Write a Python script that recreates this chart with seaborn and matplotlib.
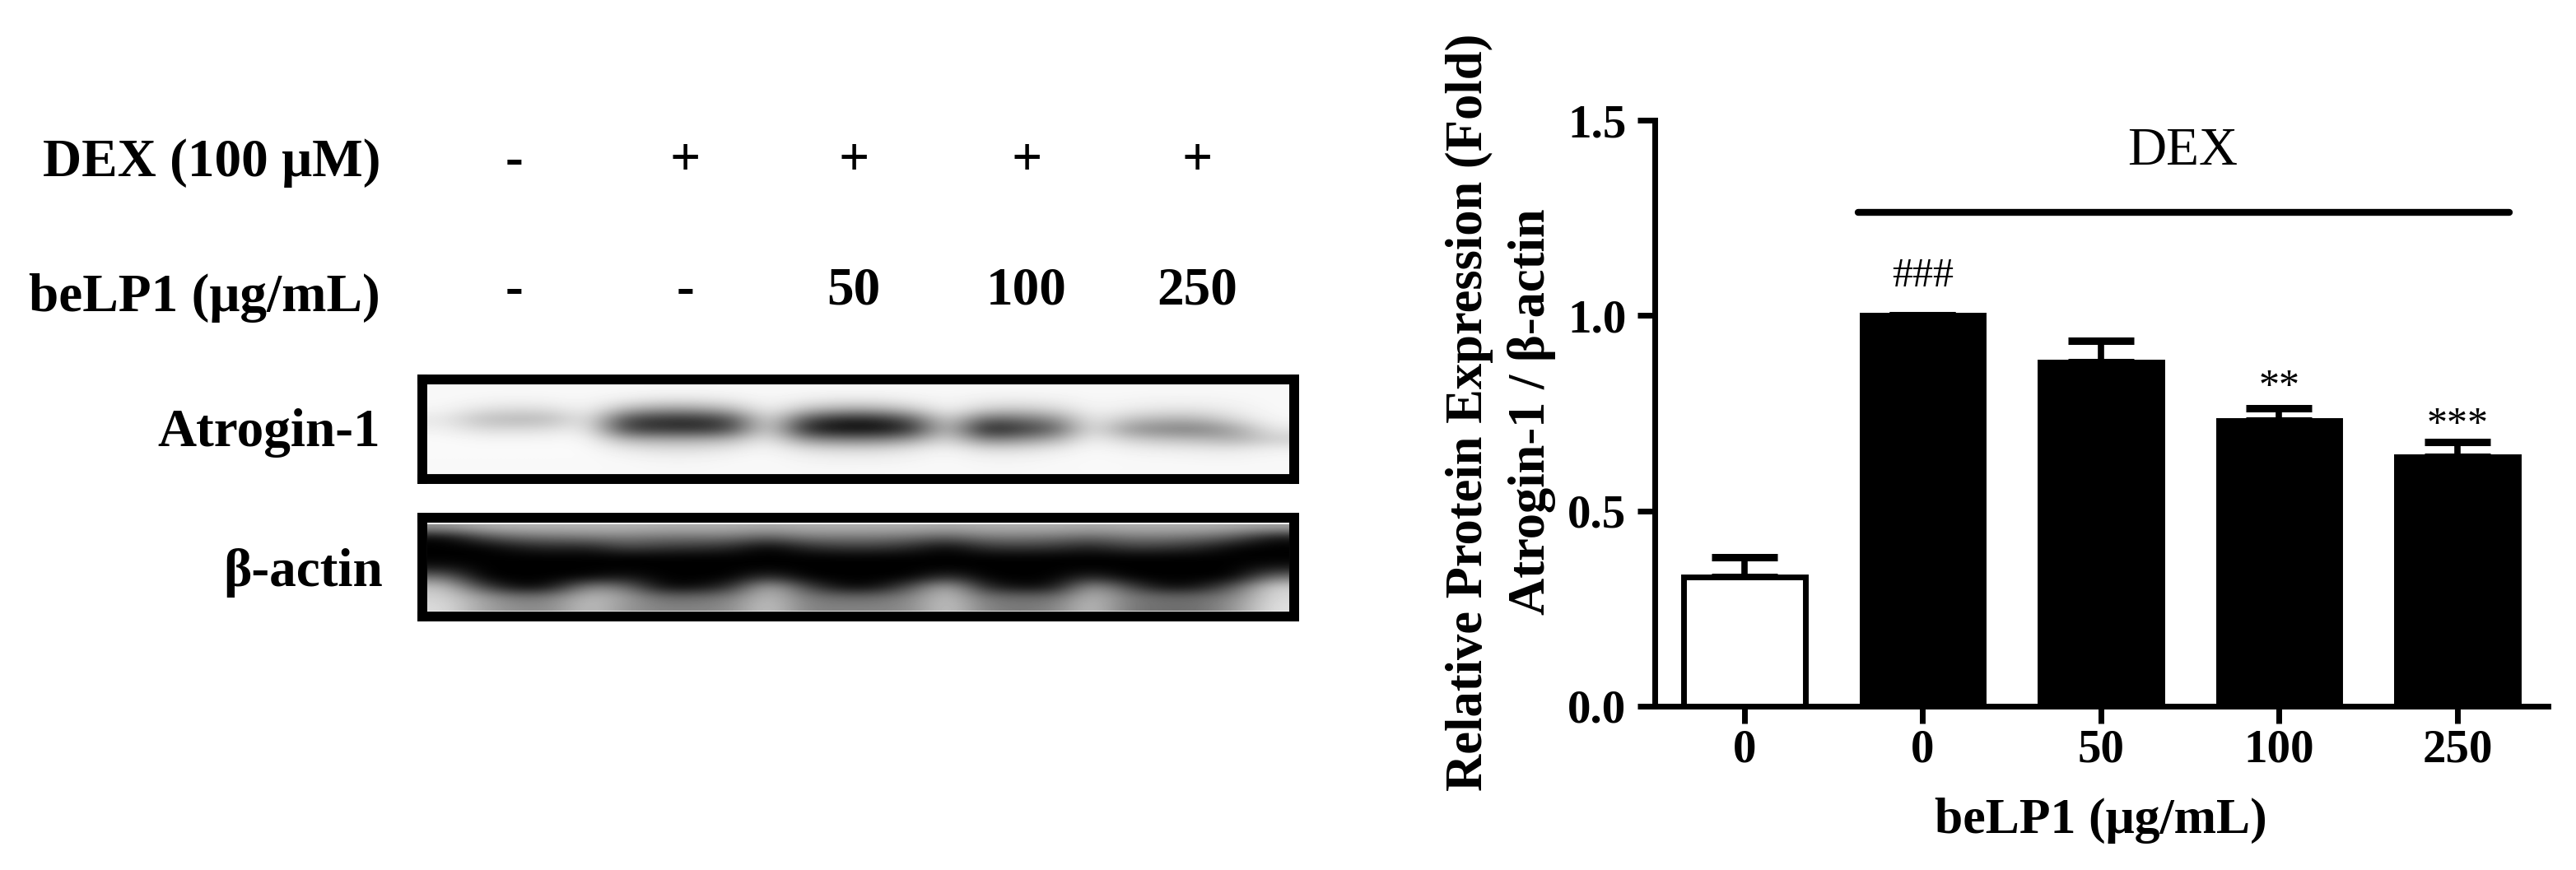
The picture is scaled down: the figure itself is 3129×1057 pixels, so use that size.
import numpy as np
import pandas as pd
import matplotlib
matplotlib.use('Agg')
import matplotlib.pyplot as plt
import seaborn as sns

# bar chart values
groups = ['ctrl', 'dex0', 'dex50', 'dex100', 'dex250']
dose_labels = ['0', '0', '50', '100', '250']
means = [0.33, 1.0, 0.88, 0.731, 0.639]
errors = [0.052, 0.0, 0.055, 0.032, 0.037]
bar_colors = ['white', 'black', 'black', 'black', 'black']
sig_labels = ['', '###', '', '**', '***']
sig_heights = [0, 1.1, 0, 0.815, 0.718]
y_ticks = [0.0, 0.5, 1.0, 1.5]

# table above the blots
dex_row = ['-', '+', '+', '+', '+']
belp_row = ['-', '-', '50', '100', '250']

# blot grey levels (0 black, 255 white)
atrogin_grey = [
    [248, 248, 248, 248, 248, 248, 248, 248, 248, 248, 248, 248, 248, 248, 248, 248, 248, 248, 248, 248, 248, 248, 248, 248],
    [248, 245, 243, 245, 247, 238, 228, 228, 236, 247, 238, 232, 232, 240, 247, 238, 236, 240, 247, 245, 243, 243, 245, 248],
    [245, 225, 218, 222, 245, 180, 155, 158, 182, 245, 192, 170, 170, 198, 245, 205, 198, 212, 245, 235, 228, 228, 238, 248],
    [232, 190, 182, 186, 238, 70, 48, 45, 75, 238, 80, 38, 38, 88, 225, 95, 112, 140, 240, 195, 180, 180, 218, 246],
    [240, 218, 218, 222, 240, 62, 52, 45, 68, 235, 35, 10, 10, 42, 215, 20, 55, 92, 238, 148, 130, 125, 160, 232],
    [250, 245, 245, 246, 248, 175, 168, 168, 180, 240, 140, 122, 122, 150, 225, 122, 140, 170, 245, 205, 192, 185, 172, 205],
    [250, 250, 250, 250, 250, 232, 222, 222, 232, 248, 222, 215, 215, 228, 245, 218, 220, 232, 250, 240, 235, 232, 230, 240],
    [249, 249, 249, 249, 249, 247, 243, 243, 247, 249, 243, 240, 240, 244, 249, 243, 243, 247, 249, 248, 247, 246, 245, 248],
    [248, 248, 248, 248, 248, 248, 247, 247, 248, 248, 247, 247, 247, 248, 248, 247, 247, 248, 248, 248, 248, 248, 248, 248],
]
actin_grey = [
    [150, 175, 180, 180, 180, 180, 175, 175, 175, 170, 175, 175, 175, 175, 170, 175, 175, 175, 170, 175, 175, 175, 170, 165],
    [5, 70, 105, 112, 120, 125, 115, 115, 115, 90, 120, 120, 120, 110, 90, 120, 120, 115, 100, 120, 120, 110, 85, 20],
    [0, 0, 25, 40, 30, 70, 55, 50, 40, 0, 40, 55, 55, 40, 5, 50, 55, 50, 30, 60, 55, 40, 5, 0],
    [0, 0, 0, 0, 0, 0, 0, 0, 0, 0, 0, 0, 0, 0, 0, 0, 0, 0, 0, 0, 0, 0, 0, 0],
    [20, 0, 0, 0, 0, 0, 0, 0, 0, 0, 0, 0, 0, 0, 0, 0, 0, 0, 0, 0, 0, 0, 0, 20],
    [115, 0, 0, 0, 5, 25, 0, 0, 0, 55, 0, 0, 0, 0, 55, 0, 0, 0, 45, 0, 0, 0, 0, 115],
    [195, 75, 5, 20, 140, 115, 10, 10, 50, 185, 75, 10, 10, 85, 185, 40, 10, 20, 165, 75, 10, 20, 95, 210],
    [210, 160, 115, 125, 190, 160, 105, 105, 125, 195, 125, 105, 105, 135, 200, 115, 105, 105, 190, 125, 105, 105, 135, 218],
    [220, 165, 140, 140, 198, 150, 130, 130, 140, 205, 130, 130, 130, 140, 205, 130, 120, 130, 198, 120, 110, 110, 150, 225],
]

W, H = 3129, 1057
SERIF = 'Liberation Serif'
sns.set_theme(style='ticks', font=SERIF)
plt.rcParams['font.family'] = SERIF


def px_axes(fig, left, top, right, bottom):
    return fig.add_axes([left / W, 1 - bottom / H, (right - left) / W, (bottom - top) / H])


def px_text(fig, x, y, s, size=47, ha='center', weight='bold', **kw):
    fig.text(x / W, 1 - y / H, s, ha=ha, va='center', fontsize=size, fontweight=weight,
             color='black', family=SERIF, **kw)


fig = plt.figure(figsize=(W / 100, H / 100), dpi=100, facecolor='white')

# blots, picture first and the thick frame on top
for grey, top, bottom in [(atrogin_grey, 467, 576), (actin_grey, 635, 743)]:
    ax_blot = px_axes(fig, 519, top, 1566, bottom)
    ax_blot.imshow(np.array(grey), cmap='gray', vmin=0, vmax=255, aspect='auto',
                   interpolation='bicubic')
    ax_blot.set_xticks([])
    ax_blot.set_yticks([])
    for name, side in ax_blot.spines.items():
        side.set_visible(name in ['top', 'bottom'])
        side.set_linewidth(2)
        side.set_color('#f2f2f2')

    frame = px_axes(fig, 513, top - 6, 1572, bottom + 6)
    frame.patch.set_alpha(0)
    frame.set_xticks([])
    frame.set_yticks([])
    for side in frame.spines.values():
        side.set_linewidth(8.6)
        side.set_color('black')

# condition table
lane_x = [624, 832, 1037, 1247, 1454]
px_text(fig, 462, 198, 'DEX (100 μM)', ha='right')
px_text(fig, 462, 362, 'beLP1 (μg/mL)', ha='right')
px_text(fig, 462, 526, 'Atrogin-1', ha='right')
px_text(fig, 465, 696, 'β-actin', ha='right')
for x, a, b in zip(lane_x, dex_row, belp_row):
    px_text(fig, x, 197, a)
    px_text(fig, x, 354, b)

# bar chart
df = pd.DataFrame({'group': groups, 'mean': means})
ax = px_axes(fig, 2010, 146, 3095, 858)
sns.barplot(data=df, x='group', y='mean', hue='group', palette=dict(zip(groups, bar_colors)),
            order=groups, width=0.68, edgecolor='black', linewidth=5, legend=False, ax=ax, zorder=3)
ax.errorbar(range(len(means)), means, yerr=[[0] * len(errors), errors], fmt='none', ecolor='black',
            elinewidth=5.5, capsize=29, capthick=6.5, zorder=2)
ax.set_xlim(-0.503, 4.508)
ax.set_ylim(0, 1.5)
ax.set_yticks(y_ticks)
ax.set_yticklabels(['%.1f' % t for t in y_ticks], fontsize=41, fontweight='bold', family=SERIF)
ax.set_xticks(range(len(dose_labels)))
ax.set_xticklabels(dose_labels, fontsize=41, fontweight='bold', family=SERIF)
ax.tick_params(axis='y', length=15, width=5, color='black', labelcolor='black', pad=10)
ax.tick_params(axis='x', length=15, width=5, color='black', labelcolor='black', pad=5)
ax.set_xlabel('')
ax.set_ylabel('')
sns.despine(ax=ax)
for side in ['left', 'bottom']:
    ax.spines[side].set_linewidth(5)
    ax.spines[side].set_color('black')
ax.patch.set_alpha(0)

ax.plot([0.64, 4.29], [1.265, 1.265], color='black', lw=6, solid_capstyle='round', clip_on=False)
ax.text(2.46, 1.42, 'DEX', ha='center', va='center', fontsize=47, color='black', family=SERIF)
for i, s in enumerate(sig_labels):
    if s:
        ax.text(i, sig_heights[i], s, ha='center', va='center', fontsize=36, color='black', family=SERIF)

px_text(fig, 2552, 997, 'beLP1 (μg/mL)', size=44.5)
px_text(fig, 1785, 501, 'Relative Protein Expression (Fold)', size=45, rotation=90)
px_text(fig, 1860, 500, 'Atrogin-1 / β-actin', size=45, rotation=90)

fig.savefig('out.png', dpi=100, facecolor='white')
